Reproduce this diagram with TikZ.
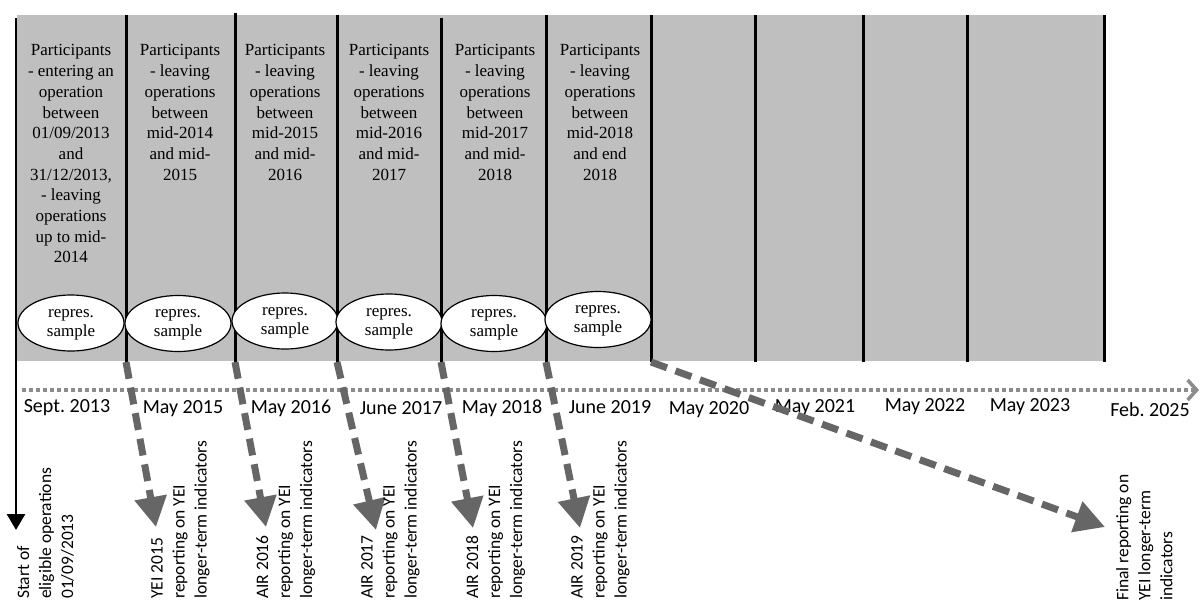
\documentclass[tikz,border=0pt]{standalone}
\usepackage{fontspec}
\setmainfont{Liberation Serif}
\newfontfamily\calfont{Carlito}
\usetikzlibrary{arrows.meta,shapes.geometric}
\definecolor{panelgrey}{RGB}{191,191,191}
\definecolor{arrowgrey}{RGB}{102,102,102}
\definecolor{axisgrey}{RGB}{140,140,140}
\newcommand{\samptext}{\raisebox{-4pt}{\begin{tabular}{@{}c@{}}repres.\\sample\end{tabular}}}
\frenchspacing
\begin{document}
\begin{tikzpicture}[x=1pt,y=-1pt,
  coltext/.style={anchor=north, align=center, inner sep=0pt, font=\fontsize{17}{20.7}\selectfont},
  sample/.style={ellipse, draw=black, line width=1.2pt, fill=white, minimum width=106pt, minimum height=56pt, inner sep=0pt, font=\fontsize{17}{19}\selectfont},
  datelabel/.style={anchor=center, inner sep=0pt, font=\calfont\fontsize{20}{24}\selectfont},
  replabel/.style={rotate=90, anchor=north west, align=left, inner sep=0pt, font=\calfont\fontsize{17.5}{22}\selectfont},
  sepline/.style={line width=3pt, black},
  report/.style={arrowgrey, line width=7pt, dash pattern=on 17pt off 9pt, -{Triangle[length=30pt,width=31pt]}},
]
\fill[white] (0,0) rectangle (1200,603);
\useasboundingbox (0,0) rectangle (1200,603);

% grey panel
\fill[panelgrey] (17,15) rectangle (1104,361);

% separators
\foreach \n/\x/\t in {2/126/15, 3/235/13, 4/337/15, 5/441/18, 6/546/15, 7/651/15, 8/755/15, 9/863/15, 10/967/15, 11/1104/15}{
  \coordinate (t\n) at (\x,\t);
  \coordinate (b\n) at (\x,362);
  \draw[sepline] (t\n) -- (b\n);
}
\coordinate (t1) at (16,18);
\coordinate (starttip) at (16,530);
\draw[line width=2.8pt, -{Triangle[length=16pt,width=18pt]}] (t1) -- (starttip);

% column texts
\node[coltext] (c1) at (71,44.5) {Participants\\- entering an\\operation\\between\\01/09/2013\\and\\31/12/2013,\\- leaving\\operations\\up to mid-\\2014};
\node[coltext] (c2) at (180,44.5) {Participants\\- leaving\\operations\\between\\mid-2014\\and mid-\\2015};
\node[coltext] (c3) at (285,44.5) {Participants\\- leaving\\operations\\between\\mid-2015\\and mid-\\2016};
\node[coltext] (c4) at (389,44.5) {Participants\\- leaving\\operations\\between\\mid-2016\\and mid-\\2017};
\node[coltext] (c5) at (495,44.5) {Participants\\- leaving\\operations\\between\\mid-2017\\and mid-\\2018};
\node[coltext] (c6) at (600,44.5) {Participants\\- leaving\\operations\\between\\mid-2018\\and end\\2018};

% samples
\node[sample] (s1) at (71,323) {\samptext};
\node[sample] (s2) at (178,323.5) {\samptext};
\node[sample] (s3) at (285,321) {\samptext};
\node[sample] (s4) at (389,322) {\samptext};
\node[sample] (s5) at (494,323.5) {\samptext};
\node[sample] (s6) at (598,319.5) {\samptext};

% timeline
\coordinate (axstart) at (22,390);
\coordinate (axend) at (1199,390);
\draw[axisgrey, line width=3.5pt, dash pattern=on 4pt off 3pt, -{Straight Barb[length=9pt,width=20pt]}] (axstart) -- (axend);

% dates
\node[datelabel] (d1) at (67,408) {Sept. 2013};
\node[datelabel] (d2) at (183,409) {May 2015};
\node[datelabel] (d3) at (291,408) {May 2016};
\node[datelabel] (d4) at (401,408) {June 2017};
\node[datelabel] (d5) at (502,408) {May 2018};
\node[datelabel] (d6) at (610,407) {June 2019};
\node[datelabel] (d7) at (709,410) {May 2020};
\node[datelabel] (d8) at (815,408) {May 2021};
\node[datelabel] (d9) at (925,407) {May 2022};
\node[datelabel] (d10) at (1030,407) {May 2023};
\node[datelabel] (d11) at (1150,410) {Feb. 2025};

% report arrows
\coordinate (r1) at (156,527);
\coordinate (r2) at (266,527);
\coordinate (r3) at (376,530);
\coordinate (r4) at (473,528);
\coordinate (r5) at (580,528);
\coordinate (r6) at (1105,527);
\draw[report] (b2) -- (r1);
\draw[report] (b3) -- (r2);
\draw[report] (b4) -- (r3);
\draw[report] (b5) -- (r4);
\draw[report] (b6) -- (r5);
\draw[report] (b7) -- (r6);

% rotated labels
\node[replabel] (l0) at (17,599) {Start of\\eligible operations\\01/09/2013};
\node[replabel] (l1) at (151,599) {YEI 2015\\reporting on YEI\\longer-term indicators};
\node[replabel] (l2) at (256,599) {AIR 2016\\reporting on YEI\\longer-term indicators};
\node[replabel] (l3) at (361,599) {AIR 2017\\reporting on YEI\\longer-term indicators};
\node[replabel] (l4) at (466,599) {AIR 2018\\reporting on YEI\\longer-term indicators};
\node[replabel] (l5) at (571,599) {AIR 2019\\reporting on YEI\\longer-term indicators};
\node[replabel] (l6) at (1116,601) {Final reporting on\\YEI longer-term\\indicators};
\end{tikzpicture}
\end{document}
